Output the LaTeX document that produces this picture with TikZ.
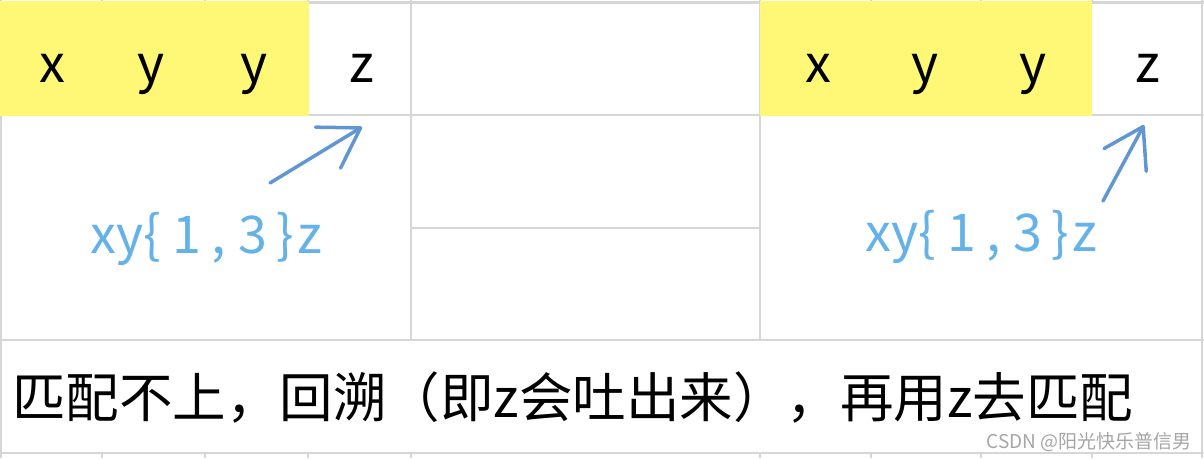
\documentclass[tikz,border=0pt]{standalone}
\usepackage{fontspec}
\setmainfont{Noto Sans CJK SC}
\usetikzlibrary{arrows.meta}
\definecolor{gridgray}{RGB}{214,214,214}
\definecolor{hiyellow}{RGB}{255,248,118}
\definecolor{handblue}{RGB}{100,178,232}
\definecolor{arrowblue}{RGB}{98,150,210}
\definecolor{markgray}{RGB}{165,165,165}
\tikzset{
  gridline/.style={draw=gridgray, line width=2.5pt},
  hilite/.style={fill=hiyellow},
  cellchar/.style={inner sep=0pt, anchor=base, font=\fontsize{52}{56}\selectfont, text=black},
  bluelabel/.style={inner sep=0pt, anchor=base west, font=\fontsize{52}{56}\selectfont, text=handblue},
  pointer/.style={draw=arrowblue, line width=3.5pt, line cap=round, line join=round,
    -{Straight Barb[length=38pt, width=48pt, line width=3.5pt, round]}},
  caption/.style={inner sep=0pt, anchor=base west, font=\fontsize{53.5}{56}\selectfont, text=black},
  watermark/.style={inner sep=0pt, anchor=base east, font=\fontsize{19}{21}\selectfont, text=markgray}
}
\newcommand{\bluetext}{xy\{\hspace{12pt}1\hspace{10pt},\hspace{12pt}3\hspace{10pt}\}\hspace{3pt}z}
\begin{document}
\begin{tikzpicture}[x=1pt, y=-1pt]
\useasboundingbox (0,0) rectangle (1204,458);
% grid
\draw[gridline] (0.5,0) -- (0.5,458);
\draw[gridline] (411,0) -- (411,340);
\draw[gridline] (760,0) -- (760,340);
\draw[gridline] (1202,0) -- (1202,458);
\draw[gridline] (309,2.5) -- (1204,2.5);
\draw[gridline] (0,115) -- (1204,115);
\draw[gridline] (411,228) -- (760,228);
\draw[gridline] (0,340) -- (1204,340);
\draw[gridline] (0,453) -- (1204,453);
\foreach \gx in {102,205,308,871,981,1092} {
  \draw[gridline] (\gx,0) -- (\gx,3);
}
\foreach \gx in {102,205,308,411,760,871,981,1092} {
  \draw[gridline] (\gx,453) -- (\gx,458);
}
% highlighted cells
\fill[hilite] (0,1) rectangle (309,116);
\fill[hilite] (760,1) rectangle (1092,116);
% cell characters
\node[cellchar] (lx)  at (52,82)  {x};
\node[cellchar] (ly1) at (151,82) {y};
\node[cellchar] (ly2) at (254,82) {y};
\node[cellchar] (lz)  at (362,82) {z};
\node[cellchar] (rx)  at (818,82) {x};
\node[cellchar] (ry1) at (925,82) {y};
\node[cellchar] (ry2) at (1033,82) {y};
\node[cellchar] (rz)  at (1148,82) {z};
% blue labels
\node[bluelabel] (ll) at (90,253) {\bluetext};
\node[bluelabel] (rl) at (865,251) {\bluetext};
% arrows
\coordinate (ls) at (270,183);
\coordinate (le) at (362,127);
\coordinate (rs) at (1103,201);
\coordinate (re) at (1144,125);
\draw[pointer] (ls) -- (le);
\draw[pointer] (rs) -- (re);
% caption
\node[caption] (cap) at (12,417) {匹配不上，回溯（即z会吐出来），再用z去匹配};
\node[watermark] (wm) at (1192,448) {CSDN @阳光快乐普信男};
\end{tikzpicture}
\end{document}
